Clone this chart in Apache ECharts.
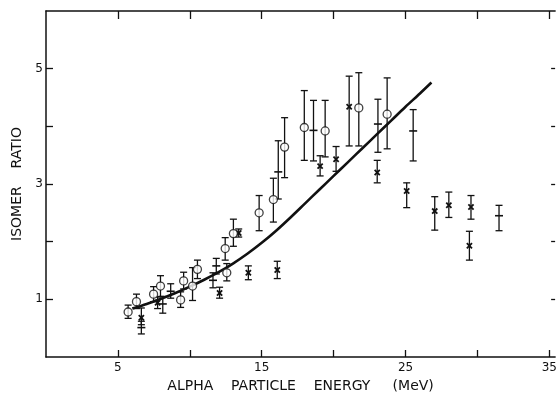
<!DOCTYPE html>
<html>
<head>
<meta charset="utf-8">
<script src="https://cdn.jsdelivr.net/npm/echarts@6/dist/echarts.min.js"></script>
<style>
html,body{margin:0;padding:0;background:#fff;}
#chart{width:560px;height:399px;}
</style>
</head>
<body>
<div id="chart"></div>
<script>
// [energy MeV, isomer ratio, lower error, upper error]
const circlePoints = [
  [5.71, 0.78, 0.67, 0.90],
  [6.29, 0.96, 0.84, 1.09],
  [7.48, 1.09, 0.96, 1.22],
  [7.96, 1.23, 1.05, 1.41],
  [9.36, 0.99, 0.86, 1.13],
  [9.57, 1.32, 1.18, 1.47],
  [10.19, 1.23, 0.98, 1.55],
  [10.53, 1.52, 1.36, 1.68],
  [12.46, 1.88, 1.68, 2.07],
  [12.57, 1.46, 1.32, 1.62],
  [13.03, 2.14, 1.92, 2.39],
  [14.82, 2.50, 2.19, 2.80],
  [15.81, 2.73, 2.34, 3.10],
  [16.59, 3.64, 3.11, 4.15],
  [17.96, 3.98, 3.41, 4.62],
  [19.41, 3.92, 3.47, 4.45],
  [21.75, 4.32, 3.66, 4.93],
  [23.72, 4.21, 3.61, 4.84]
];
const crossPoints = [
  [6.63, 0.68, 0.56, 0.85],
  [7.76, 0.94, 0.84, 1.04],
  [12.07, 1.11, 1.02, 1.21],
  [13.40, 2.15, 2.08, 2.22],
  [14.07, 1.46, 1.34, 1.58],
  [16.08, 1.51, 1.36, 1.66],
  [19.06, 3.31, 3.14, 3.49],
  [20.17, 3.43, 3.22, 3.65],
  [21.08, 4.34, 3.66, 4.87],
  [23.03, 3.20, 3.02, 3.41],
  [25.08, 2.88, 2.59, 3.02],
  [27.03, 2.53, 2.20, 2.78],
  [28.01, 2.63, 2.42, 2.86],
  [29.55, 2.60, 2.39, 2.80],
  [29.44, 1.93, 1.68, 2.18]
];
const dashPoints = [
  [6.63, 0.51, 0.40, 0.62],
  [8.12, 0.92, 0.76, 1.05],
  [8.67, 1.14, 1.02, 1.27],
  [11.61, 1.33, 1.20, 1.46],
  [11.84, 1.58, 1.44, 1.71],
  [16.15, 3.21, 2.74, 3.75],
  [18.60, 3.93, 3.40, 4.45],
  [23.08, 4.04, 3.55, 4.47],
  [25.53, 3.92, 3.40, 4.29],
  [31.50, 2.45, 2.19, 2.63]
];
const curvePoints = [
  [6.0, 0.84], [7, 0.92], [8, 1.01], [9, 1.11], [10, 1.22], [11, 1.34],
  [12, 1.47], [13, 1.62], [14, 1.79], [15, 1.98], [16, 2.19], [17, 2.42],
  [18, 2.66], [19, 2.90], [20, 3.14], [21, 3.38], [22, 3.62], [23, 3.86],
  [24, 4.10], [25, 4.34], [26, 4.57], [26.8, 4.76]
];
const xTicks = [5, 10, 15, 20, 25, 30, 35];
const xLabels = [5, 15, 25, 35];
const yTicks = [1, 2, 3, 4, 5];
const yLabels = [1, 3, 5];

const INK = '#111';
const FONT = 'DejaVu Sans';

function errBars(kind) {
  return function (params, api) {
    const x = api.value(0), v = api.value(1), lo = api.value(2), hi = api.value(3);
    const pv = api.coord([x, v]), pl = api.coord([x, lo]), ph = api.coord([x, hi]);
    const w = 3.5;
    const st = { stroke: INK, lineWidth: 1.3 };
    const ch = [
      { type: 'line', shape: { x1: pl[0], y1: pl[1], x2: ph[0], y2: ph[1] }, style: st },
      { type: 'line', shape: { x1: pl[0] - w, y1: pl[1], x2: pl[0] + w, y2: pl[1] }, style: st },
      { type: 'line', shape: { x1: ph[0] - w, y1: ph[1], x2: ph[0] + w, y2: ph[1] }, style: st }
    ];
    if (kind === 'dash') {
      ch.push({ type: 'line', shape: { x1: pv[0] - 4, y1: pv[1], x2: pv[0] + 4, y2: pv[1] }, style: { stroke: INK, lineWidth: 1.6 } });
    } else if (kind === 'cross') {
      const s = 2.6;
      const cs = { stroke: INK, lineWidth: 1.8 };
      ch.push({ type: 'line', shape: { x1: pv[0] - s, y1: pv[1] - s, x2: pv[0] + s, y2: pv[1] + s }, style: cs });
      ch.push({ type: 'line', shape: { x1: pv[0] - s, y1: pv[1] + s, x2: pv[0] + s, y2: pv[1] - s }, style: cs });
    }
    return { type: 'group', children: ch };
  };
}

const chart = echarts.init(document.getElementById('chart'), null, { renderer: 'canvas' });
const axisLineStyle = { color: INK, width: 1.5 };
chart.setOption({
  animation: false,
  backgroundColor: '#fff',
  grid: { left: 46, right: 0, top: 11, bottom: 42 },
  xAxis: [
    {
      type: 'value', position: 'bottom', min: 0, max: 35.4, interval: 5,
      axisLine: { show: true, onZero: false, lineStyle: axisLineStyle },
      axisTick: { show: true, inside: true, length: 7, customValues: xTicks, lineStyle: { color: INK, width: 1.3 } },
      axisLabel: { show: true, customValues: xLabels, color: INK, fontFamily: FONT, fontSize: 12, margin: 5 },
      splitLine: { show: false },
      name: 'ALPHA    PARTICLE    ENERGY     (MeV)',
      nameLocation: 'middle', nameGap: 15,
      nameTextStyle: { color: INK, fontFamily: FONT, fontSize: 14 }
    },
    {
      type: 'value', position: 'top', min: 0, max: 35.4, interval: 5,
      axisLine: { show: true, onZero: false, lineStyle: axisLineStyle },
      axisTick: { show: true, inside: true, length: 8, customValues: xTicks, lineStyle: { color: INK, width: 1.3 } },
      axisLabel: { show: false },
      splitLine: { show: false }
    }
  ],
  yAxis: [
    {
      type: 'value', position: 'left', min: 0, max: 6, interval: 1,
      axisLine: { show: true, onZero: false, lineStyle: axisLineStyle },
      axisTick: { show: true, inside: true, length: 7, customValues: yTicks, lineStyle: { color: INK, width: 1.3 } },
      axisLabel: { show: true, customValues: yLabels, color: INK, fontFamily: FONT, fontSize: 12, margin: 3 },
      splitLine: { show: false },
      name: 'ISOMER    RATIO',
      nameLocation: 'middle', nameGap: 22, nameRotate: 90,
      nameTextStyle: { color: INK, fontFamily: FONT, fontSize: 14 }
    },
    {
      type: 'value', position: 'right', min: 0, max: 6, interval: 1,
      axisLine: { show: false, onZero: false },
      axisTick: { show: true, inside: true, length: 4, customValues: yTicks, lineStyle: { color: INK, width: 1.3 } },
      axisLabel: { show: false },
      splitLine: { show: false }
    }
  ],
  series: [
    {
      type: 'line', data: curvePoints, smooth: 0.3, showSymbol: false,
      lineStyle: { color: INK, width: 2.6 }, z: 3
    },
    { type: 'custom', renderItem: errBars('plain'), data: circlePoints, z: 2 },
    { type: 'custom', renderItem: errBars('cross'), data: crossPoints, z: 2 },
    { type: 'custom', renderItem: errBars('dash'), data: dashPoints, z: 2 },
    {
      type: 'scatter', data: circlePoints.map(p => [p[0], p[1]]),
      symbol: 'circle', symbolSize: 8,
      itemStyle: { color: '#fff', borderColor: INK, borderWidth: 1.3 }, z: 4
    }
  ]
});
</script>
</body>
</html>
